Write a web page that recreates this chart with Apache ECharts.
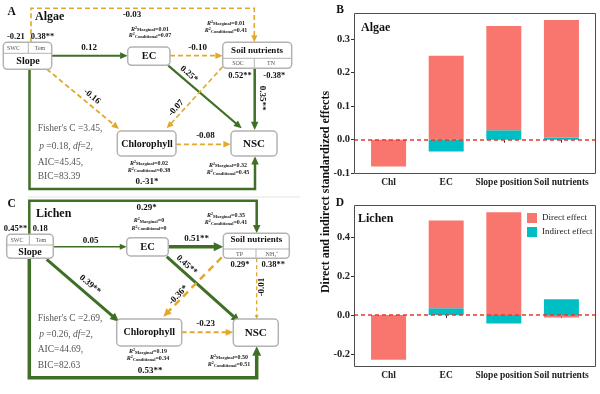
<!DOCTYPE html>
<html><head><meta charset="utf-8">
<script src="https://cdn.jsdelivr.net/npm/echarts@6/dist/echarts.min.js"></script>
<style>html,body{margin:0;padding:0;background:#fff}#c{width:600px;height:394px}</style>
</head><body><div id="c"></div><script>
// ---------- data ----------
const categories = ['Chl', 'EC', 'Slope position', 'Soil nutrients'];
const algaeDirect = [-0.08, 0.25, 0.31, 0.35];
const algaeIndirect = [0, -0.035, 0.028, 0.006];
const lichenDirect = [-0.23, 0.453, 0.53, -0.012];
const lichenIndirect = [0, 0.035, -0.043, 0.081];
const algaeYTicks = [-0.1, 0.0, 0.1, 0.2, 0.3];
const lichenYTicks = [-0.2, 0.0, 0.2, 0.4];
const seriesNames = ['Direct effect', 'Indirect effect'];
// path coefficients: Slope→EC, EC→Soil, Slope→Soil, Slope→Chl, EC→NSC, Soil→Chl, Soil→NSC, Chl→NSC, Slope→NSC
const algaePathLabels = ['0.12', '-0.10', '-0.03', '-0.16', '0.25*', '-0.07', '0.35**', '-0.08', '0.-31*'];
const lichenPathLabels = ['0.05', '0.51**', '0.29*', '0.39**', '0.45**', '-0.36*', '-0.01', '-0.23', '0.53**'];
// R2 for EC, Soil nutrients, Chlorophyll, NSC
const algaeR2Marginal = ['0.01', '0.01', '0.02', '0.32'];
const algaeR2Conditional = ['0.07', '0.41', '0.38', '0.45'];
const lichenR2Marginal = ['0', '0.35', '0.19', '0.50'];
const lichenR2Conditional = ['0', '0.41', '0.34', '0.51'];
const algaeSlopeSub = ['-0.21', '0.38**'];
const lichenSlopeSub = ['0.45**', '0.18'];
const algaeSoilSub = ['0.52**', '-0.38*'];
const lichenSoilSub = ['0.29*', '0.38**'];
const slopeSubNames = ['SWC', 'Tem'];
const algaeSoilSubNames = ['SOC', 'TN'];
const lichenSoilSubNames = ['TP', 'NH\u2084\u207A'];
// Fisher's C, p, df, AIC, BIC
const algaeFit = ['3.45', '0.18', '2', '45.45', '83.39'];
const lichenFit = ['2.69', '0.26', '2', '44.69', '82.63'];

// ---------- drawing helpers ----------
const SERIF = '"Liberation Serif","Times New Roman",Times,serif';
const GREEN = '#3f6f25', GOLD = '#e3a72c', BOXC = '#b3b3b3';
const els = [];
function T(x, y, s, o) {
  o = o || {};
  const st = {text: s, fill: o.color || '#111', fontFamily: SERIF, fontSize: o.size || 9,
    fontWeight: o.weight || 'bold', fontStyle: o.italic ? 'italic' : 'normal',
    align: o.align || 'center', verticalAlign: 'middle'};
  if (o.rich) st.rich = o.rich;
  els.push({type: 'text', x: x, y: y, rotation: o.rot || 0, z: 10, silent: true, style: st});
}
function A(pts, color, w, dash, head) {
  const n = pts.length, tip = pts[n - 1], prev = pts[n - 2];
  const dx = tip[0] - prev[0], dy = tip[1] - prev[1], Ln = Math.hypot(dx, dy), ux = dx / Ln, uy = dy / Ln;
  const hl = head ? head[0] : (5 + w * 1.3), hw = head ? head[1] : (4 + w * 1.4);
  const bx = tip[0] - ux * hl, by = tip[1] - uy * hl;
  const lp = pts.slice(0, n - 1).concat([[bx + ux * 0.5, by + uy * 0.5]]);
  els.push({type: 'polyline', z: 2, silent: true, shape: {points: lp},
    style: {stroke: color, lineWidth: w, fill: null, lineDash: dash || null}});
  if (hl > 0) els.push({type: 'polygon', z: 3, silent: true,
    shape: {points: [tip, [bx - uy * hw / 2, by + ux * hw / 2], [bx + uy * hw / 2, by - ux * hw / 2]]},
    style: {fill: color}});
}
function B(x, y, w, h) {
  els.push({type: 'rect', z: 5, silent: true, shape: {x: x, y: y, width: w, height: h, r: 4},
    style: {fill: '#fff', stroke: BOXC, lineWidth: 1.5}});
}
function Ln(x1, y1, x2, y2, c, w) {
  els.push({type: 'line', z: 6, silent: true, shape: {x1: x1, y1: y1, x2: x2, y2: y2},
    style: {stroke: c || BOXC, lineWidth: w || 1}});
}
function R2(x, y, kind, val) {
  const f = '#222';
  T(x, y, '{r|R}{s|2}{b|' + kind + '}{t|=' + val + '}', {rich: {
    r: {fontSize: 6, fontStyle: 'italic', fontWeight: 'bold', fontFamily: SERIF, fill: f, lineHeight: 7},
    s: {fontSize: 4, fontWeight: 'bold', fontFamily: SERIF, fill: f, verticalAlign: 'top', lineHeight: 7},
    b: {fontSize: 4.5, fontWeight: 'bold', fontFamily: SERIF, fill: f, verticalAlign: 'bottom', lineHeight: 7},
    t: {fontSize: 6, fontWeight: 'bold', fontFamily: SERIF, fill: f, lineHeight: 7}}});
}
function fit(x, ys, vals) {
  const c = '#555';
  const rich = {n: {fontSize: 9.5, fontFamily: SERIF, fill: c}, i: {fontSize: 9.5, fontFamily: SERIF, fill: c, fontStyle: 'italic'}};
  T(x, ys[0], "Fisher's C =" + vals[0] + ',', {align: 'left', weight: 'normal', size: 9.5, color: c});
  T(x + 1.5, ys[1], '{i|p}{n| =' + vals[1] + ', }{i|df}{n|=' + vals[2] + ',}', {align: 'left', rich: rich});
  T(x, ys[2], 'AIC=' + vals[3] + ',', {align: 'left', weight: 'normal', size: 9.5, color: c});
  T(x, ys[3], 'BIC=' + vals[4], {align: 'left', weight: 'normal', size: 9.5, color: c});
}
const DASH = [5, 3];

// ---------- panel A (Algae) ----------
(function () {
  const L = algaePathLabels;
  A([[51.7, 55.7], [127.7, 55.7]], GREEN, 2, null);
  A([[170, 55.7], [222.7, 55.7]], GOLD, 1.8, DASH);
  A([[31, 42.3], [31, 8.3], [254.3, 8.3], [254.3, 42.3]], GOLD, 1.6, DASH);
  A([[46.7, 69], [119, 129]], GOLD, 1.8, DASH);
  A([[168.3, 65.7], [241.7, 128.3]], GREEN, 2.2, null);
  A([[222.7, 66.7], [166.7, 128.3]], GOLD, 1.6, DASH);
  A([[254.7, 68.3], [254.7, 130]], GREEN, 2.5, null);
  A([[176, 144.3], [230.7, 144.3]], GOLD, 1.8, DASH);
  A([[29.5, 69.3], [29.5, 189], [255, 189], [255, 156.3]], GREEN, 2.5, null);
  T(89, 47.5, L[0]); T(197.7, 47.5, L[1]); T(132, 15, L[2]);
  T(92, 96.5, L[3], {rot: -0.69}); T(189, 74, L[4], {rot: -0.71});
  T(176, 108, L[5], {rot: 0.83}); T(262, 98, L[6], {rot: -Math.PI / 2});
  T(205.5, 136, L[7]); T(147, 181.5, L[8]);
  B(3.3, 42.3, 48.4, 27); Ln(3.3, 53.3, 51.7, 53.3); Ln(28.3, 42.3, 28.3, 53.3);
  B(127.7, 47, 42.3, 18.3);
  B(222.7, 42.3, 69, 26); Ln(222.7, 58.3, 291.7, 58.3); Ln(254.3, 58.3, 254.3, 68.3);
  B(117.3, 131, 58.7, 25);
  B(231, 131, 46, 25);
  T(11.7, 12.3, 'A', {size: 11.5});
  T(35, 17.3, 'Algae', {size: 12, align: 'left'});
  T(15.8, 37, algaeSlopeSub[0], {size: 8.5}); T(42.5, 37, algaeSlopeSub[1], {size: 8.5});
  T(13.5, 48.5, slopeSubNames[0], {size: 6, weight: 'normal', color: '#555'});
  T(40, 48.5, slopeSubNames[1], {size: 6, weight: 'normal', color: '#555'});
  T(28, 61.3, 'Slope', {size: 10});
  T(149, 56, 'EC', {size: 10.5});
  T(257, 50.3, 'Soil nutrients', {size: 9});
  T(238, 63.3, algaeSoilSubNames[0], {size: 6, weight: 'normal', color: '#555'});
  T(271, 63.3, algaeSoilSubNames[1], {size: 6, weight: 'normal', color: '#555'});
  T(240, 76, algaeSoilSub[0], {size: 8.5}); T(274.3, 76, algaeSoilSub[1], {size: 8.5});
  T(147, 144.3, 'Chlorophyll', {size: 10});
  T(254, 144.3, 'NSC', {size: 11});
  R2(150, 29, 'Marginal', algaeR2Marginal[0]); R2(150, 35.7, 'Conditional', algaeR2Conditional[0]);
  R2(226, 23.3, 'Marginal', algaeR2Marginal[1]); R2(226, 30.5, 'Conditional', algaeR2Conditional[1]);
  R2(149, 163.3, 'Marginal', algaeR2Marginal[2]); R2(149, 170.3, 'Conditional', algaeR2Conditional[2]);
  R2(228, 165, 'Marginal', algaeR2Marginal[3]); R2(228, 172.5, 'Conditional', algaeR2Conditional[3]);
  fit(37.7, [128.3, 146.5, 162.3, 176.7], algaeFit);
})();
Ln(28, 197, 300, 197, '#e4e4e4', 1);

// ---------- panel C (Lichen) ----------
(function () {
  const L = lichenPathLabels;
  A([[53.3, 246.7], [126.7, 246.7]], GREEN, 1.5, null);
  A([[168.3, 246.7], [223.3, 246.7]], GREEN, 3.5, null);
  A([[29.3, 234.3], [29.3, 200.7], [256.7, 200.7], [256.7, 233.3]], GREEN, 2.5, null);
  A([[46.7, 259.3], [119, 321.7]], GREEN, 3, null);
  A([[166.7, 256.7], [240, 322.3]], GREEN, 3, null);
  A([[221.7, 257.3], [163.3, 316.7]], GOLD, 2.5, [7, 5]);
  A([[256.7, 258.3], [256.7, 319]], GOLD, 1.3, [4, 3], [4, 4]);
  A([[181.7, 332.3], [233.3, 332.3]], GOLD, 2, DASH);
  A([[29.3, 258.3], [29.3, 377.7], [256.7, 377.7], [256.7, 346.3]], GREEN, 3.5, null);
  T(90.7, 240.5, L[0]); T(196.7, 238.5, L[1]); T(146.7, 207.5, L[2]);
  T(90, 284.5, L[3], {rot: -0.71}); T(186.7, 265, L[4], {rot: -0.73});
  T(178.3, 295, L[5], {rot: 0.79}); T(262, 287, L[6], {rot: Math.PI / 2});
  T(205.7, 323.5, L[7]); T(150, 370.7, L[8]);
  B(6.7, 234.3, 46.6, 24); Ln(6.7, 245, 53.3, 245); Ln(29.3, 234.3, 29.3, 245);
  B(126.7, 237.7, 41.6, 18.3);
  B(223.3, 233.3, 66, 25); Ln(223.3, 249, 289.3, 249); Ln(256, 249, 256, 258.3);
  B(116.7, 319, 65, 27);
  B(233.3, 319, 45, 27.3);
  T(11.7, 204, 'C', {size: 11.5});
  T(36, 214, 'Lichen', {size: 12, align: 'left'});
  T(15.5, 229, lichenSlopeSub[0], {size: 8.5}); T(40.3, 229, lichenSlopeSub[1], {size: 8.5});
  T(17, 240, slopeSubNames[0], {size: 6, weight: 'normal', color: '#555'});
  T(41, 240, slopeSubNames[1], {size: 6, weight: 'normal', color: '#555'});
  T(30, 252, 'Slope', {size: 10});
  T(147.5, 247, 'EC', {size: 10.5});
  T(256.3, 239.5, 'Soil nutrients', {size: 9});
  T(239.5, 254, lichenSoilSubNames[0], {size: 6, weight: 'normal', color: '#555'});
  T(272, 254, lichenSoilSubNames[1], {size: 6, weight: 'normal', color: '#555'});
  T(240, 265, lichenSoilSub[0], {size: 8.5}); T(273.3, 265, lichenSoilSub[1], {size: 8.5});
  T(149.2, 332.7, 'Chlorophyll', {size: 10});
  T(255.8, 333, 'NSC', {size: 11});
  R2(149, 220.7, 'Marginal', lichenR2Marginal[0]); R2(149, 228, 'Conditional', lichenR2Conditional[0]);
  R2(226, 215.7, 'Marginal', lichenR2Marginal[1]); R2(226, 222.5, 'Conditional', lichenR2Conditional[1]);
  R2(148, 351.7, 'Marginal', lichenR2Marginal[2]); R2(148, 358.5, 'Conditional', lichenR2Conditional[2]);
  R2(229, 357.3, 'Marginal', lichenR2Marginal[3]); R2(229, 364.7, 'Conditional', lichenR2Conditional[3]);
  fit(37.7, [318.3, 334, 349.7, 365.7], lichenFit);
})();

// bar panel texts and frames
T(340, 10, 'B', {size: 11.5});
T(340, 203.3, 'D', {size: 11.5});
T(361, 28.3, 'Algae', {size: 12, align: 'left'});
T(358, 219, 'Lichen', {size: 12, align: 'left'});
T(326, 192, 'Direct and indirect standardized effects', {size: 12, rot: Math.PI / 2});
const FRAME_L = 354, FRAME_W = 242;
const PANELS = [{top: 13, h: 161}, {top: 205, h: 162}];
PANELS.forEach(p => els.push({type: 'rect', z: 20, silent: true,
  shape: {x: FRAME_L + 0.5, y: p.top + 0.5, width: FRAME_W - 1, height: p.h - 1},
  style: {fill: null, stroke: '#4d4d4d', lineWidth: 1}}));

// ---------- charts ----------
const RED = '#F8766D', TEAL = '#00BFC4';
const unit = FRAME_W / (categories.length + 0.2);   // one category band plus 0.1 band padding each side
const inset = unit * 0.1;
function xAxisCfg(gi) {
  return {type: 'category', gridIndex: gi, data: categories, boundaryGap: true,
    axisLine: {show: false}, splitLine: {show: false},
    axisTick: {show: true, alignWithLabel: true, interval: 0, length: 3, lineStyle: {color: '#333'}},
    axisLabel: {interval: 0, fontFamily: SERIF, fontWeight: 'bold', fontSize: 9.5, color: '#222', margin: 4}};
}
function yAxisCfg(gi, mn, mx, ticks) {
  return {type: 'value', gridIndex: gi, min: mn, max: mx, offset: inset,
    axisLine: {show: false}, splitLine: {show: false},
    axisTick: {show: true, customValues: ticks, length: 3, lineStyle: {color: '#333'}},
    axisLabel: {customValues: ticks, formatter: v => v.toFixed(1),
      fontFamily: SERIF, fontWeight: 'bold', fontSize: 10.5, color: '#222', margin: 4}};
}
const zeroLine = {silent: true, symbol: ['none', 'none'], label: {show: false}, z: 10,
  lineStyle: {color: '#e8392f', type: [4, 3], width: 1.5, opacity: 1},
  emphasis: {disabled: true},
  data: [[{x: FRAME_L, yAxis: 0}, {x: FRAME_L + FRAME_W, yAxis: 0}]]};

const chart = echarts.init(document.getElementById('c'), null, {renderer: 'canvas'});
chart.setOption({
  animation: false,
  grid: PANELS.map(p => ({left: FRAME_L + inset, top: p.top, width: FRAME_W - 2 * inset, height: p.h, show: false})),
  xAxis: [xAxisCfg(0), xAxisCfg(1)],
  yAxis: [yAxisCfg(0, -0.102, 0.377, algaeYTicks), yAxisCfg(1, -0.268, 0.568, lichenYTicks)],
  legend: {data: seriesNames, left: 527, top: 213, padding: 0, orient: 'vertical', icon: 'rect',
    itemWidth: 10, itemHeight: 10, itemGap: 4, selectedMode: false,
    textStyle: {fontFamily: SERIF, fontSize: 9, color: '#222'}},
  series: [
    {name: seriesNames[1], type: 'bar', xAxisIndex: 0, yAxisIndex: 0, stack: 'b', barWidth: 35,
      itemStyle: {color: TEAL}, data: algaeIndirect},
    {name: seriesNames[0], type: 'bar', xAxisIndex: 0, yAxisIndex: 0, stack: 'b', barWidth: 35,
      itemStyle: {color: RED}, data: algaeDirect, markLine: zeroLine},
    {name: seriesNames[1], type: 'bar', xAxisIndex: 1, yAxisIndex: 1, stack: 'd', barWidth: 35,
      itemStyle: {color: TEAL}, data: lichenIndirect},
    {name: seriesNames[0], type: 'bar', xAxisIndex: 1, yAxisIndex: 1, stack: 'd', barWidth: 35,
      itemStyle: {color: RED}, data: lichenDirect, markLine: zeroLine}
  ],
  graphic: {elements: els}
});
</script></body></html>
